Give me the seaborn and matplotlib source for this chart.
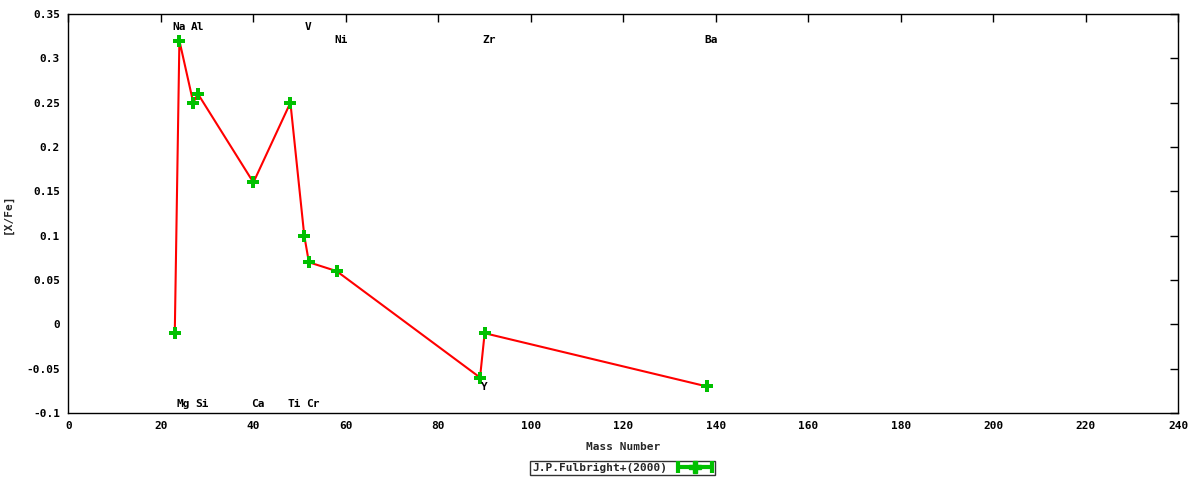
import numpy as np
import pandas as pd
import matplotlib
matplotlib.use("Agg")
import matplotlib.pyplot as plt
from matplotlib.container import ErrorbarContainer
from matplotlib.legend_handler import HandlerErrorbar
import seaborn as sns

# ---- data ----
elements = ["Na", "Mg", "Al", "Si", "Ca", "Ti", "V", "Cr", "Ni", "Y", "Zr", "Ba"]
mass_number = [23, 24, 27, 28, 40, 48, 51, 52, 58, 89, 90, 138]
x_fe = [-0.01, 0.32, 0.25, 0.26, 0.16, 0.25, 0.10, 0.07, 0.06, -0.06, -0.01, -0.07]
label_y = [0.335, -0.09, 0.335, -0.09, -0.09, -0.09, 0.335, -0.09, 0.321, -0.071, 0.321, 0.321]
series_name = "J.P.Fulbright+(2000)"
x_ticks = [0, 20, 40, 60, 80, 100, 120, 140, 160, 180, 200, 220, 240]
y_ticks = [-0.1, -0.05, 0, 0.05, 0.1, 0.15, 0.2, 0.25, 0.3, 0.35]
y_tick_labels = ["-0.1", "-0.05", "0", "0.05", "0.1", "0.15", "0.2", "0.25", "0.3", "0.35"]

df = pd.DataFrame({"mass": mass_number, "xfe": x_fe})

sns.set_theme(style="white")
plt.rcParams["font.family"] = ["DejaVu Sans Mono", "DejaVu Sans"]
plt.rcParams["font.weight"] = "bold"
plt.rcParams["font.size"] = 8

RED = "#ff0000"
GREEN = "#00c000"

fig = plt.figure(figsize=(12, 4.8), dpi=100)
ax = fig.add_axes([0.057, 0.1396, 0.925, 0.8312])

sns.lineplot(data=df, x="mass", y="xfe", sort=False, estimator=None,
             color=RED, linewidth=1.5, ax=ax, legend=False, zorder=2)
sns.scatterplot(data=df, x="mass", y="xfe", marker="P", s=70, color=GREEN,
                edgecolor=GREEN, linewidth=0, ax=ax, legend=False, zorder=3)

for el, xm, ly in zip(elements, mass_number, label_y):
    ax.annotate(el, xy=(xm, ly), xytext=(3, 0), textcoords="offset points",
                ha="center", va="center", fontsize=8, fontweight="bold", color="black")

# legend handle (errorbar style like gnuplot), drawn off-axes so it is invisible
eb = ax.errorbar([-1000], [-1000], xerr=[1], fmt="P", color=GREEN, markersize=8,
                 elinewidth=3, capsize=4, capthick=3, label=series_name)
leg = fig.legend(handles=[eb], labels=[series_name], loc="center",
                 bbox_to_anchor=(0.519, 0.025), frameon=True, fancybox=False,
                 markerfirst=False, handlelength=3.4, borderpad=0.15,
                 handletextpad=0.8, borderaxespad=0,
                 handler_map={ErrorbarContainer: HandlerErrorbar(xerr_size=1.55)},
                 prop={"family": "DejaVu Sans Mono", "weight": "bold", "size": 8})
leg.get_frame().set_edgecolor("black")
leg.get_frame().set_linewidth(1)

ax.set_xlim(0, 240)
ax.set_ylim(-0.1, 0.35)
ax.set_xticks(x_ticks)
ax.set_xticklabels([str(t) for t in x_ticks])
ax.set_yticks(y_ticks)
ax.set_yticklabels(y_tick_labels)
ax.tick_params(direction="in", length=6, width=1, top=True, right=True,
               labelsize=8, colors="black", pad=6)
for lab in ax.get_xticklabels() + ax.get_yticklabels():
    lab.set_fontweight("bold")
for sp in ax.spines.values():
    sp.set_color("black")
    sp.set_linewidth(1)

ax.set_xlabel("Mass Number", fontsize=8, fontweight="bold", labelpad=8)
ax.set_ylabel("[X/Fe]", fontsize=8, fontweight="bold")
ax.yaxis.set_label_coords(-0.05, 0.5)

fig.savefig("out.png", dpi=100, facecolor="white")
